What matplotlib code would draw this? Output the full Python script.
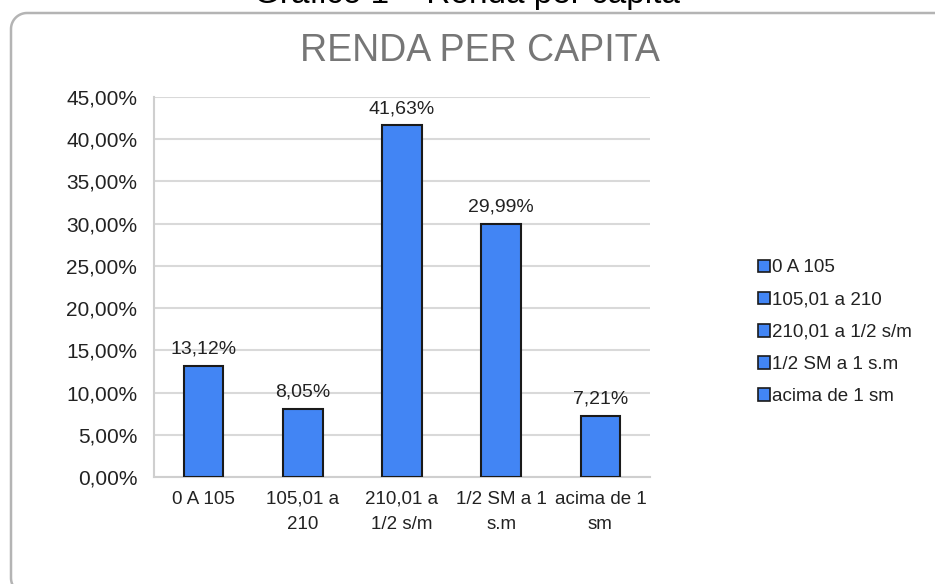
import matplotlib
matplotlib.use('Agg')
import numpy as np
from matplotlib import pyplot as plt
from matplotlib.lines import Line2D
from matplotlib.patches import Patch
from matplotlib.ticker import FuncFormatter

plt.rcParams['font.family'] = ['Liberation Sans', 'DejaVu Sans']

categories = ['0 A 105', '105,01 a\n210', '210,01 a\n1/2 s/m', '1/2 SM a 1\ns.m', 'acima de 1\nsm']
legend_labels = ['0 A 105', '105,01 a 210', '210,01 a 1/2 s/m', '1/2 SM a 1 s.m', 'acima de 1 sm']
values = [0.1312, 0.0805, 0.4163, 0.2999, 0.0721]
value_labels = ['13,12%', '8,05%', '41,63%', '29,99%', '7,21%']

W, H = 935, 584
fig = plt.figure(figsize=(W / 100, H / 100), dpi=100)

# rounded frame around the chart (only top and left edges are visible)
r = 16
left, top, bottom = 11, 13, 594
t = np.linspace(0, np.pi / 2, 20)
arc_x = left + r - r * np.sin(t)        # top-left corner
arc_y = top + r - r * np.cos(t)
arc2_x = left + r - r * np.cos(t)       # bottom-left corner
arc2_y = bottom - r + r * np.sin(t)
px = np.concatenate([[W + 5], arc_x, arc2_x])
py = np.concatenate([[top], arc_y, arc2_y])
fig.add_artist(Line2D(px / W, 1 - py / H, transform=fig.transFigure,
                      color='#b4b4b4', linewidth=1.8, solid_capstyle='butt'))

# caption, cut off at the top in the original
fig.text(467 / W, 1 - 3 / H, 'Gráfico 1 – Renda per capita', ha='center', va='baseline',
         fontsize=24, color='black')

fig.text(480 / W, 1 - 51 / H, 'RENDA PER CAPITA', ha='center', va='center',
         fontsize=27, color='#767676')

ax = fig.add_axes([154 / W, 1 - 477 / H, (650 - 154) / W, (477 - 97) / H])
x = range(len(categories))
bars = ax.bar(x, values, width=0.4, color='#4285f4', edgecolor='#1a1a1a', linewidth=1.5, zorder=3)

ax.set_xlim(-0.5, len(categories) - 0.5)
ax.set_ylim(0, 0.45)
ax.set_yticks([i * 0.05 for i in range(10)])
ax.yaxis.set_major_formatter(FuncFormatter(lambda v, p: f'{v * 100:.2f}%'.replace('.', ',')))
ax.set_xticks(list(x))
ax.set_xticklabels(categories, fontsize=13.5, color='#222222', linespacing=1.6)
ax.tick_params(axis='y', length=0, pad=12, labelsize=15, labelcolor='#222222')
ax.tick_params(axis='x', length=0, pad=10)
ax.grid(axis='y', color='#d9d9d9', linewidth=1.5, zorder=0)
for s in ['top', 'right']:
    ax.spines[s].set_visible(False)
for s in ['left', 'bottom']:
    ax.spines[s].set_color('#cfcfcf')
    ax.spines[s].set_linewidth(1.5)

for b, lab in zip(bars, value_labels):
    ax.annotate(lab, (b.get_x() + b.get_width() / 2, b.get_height()), xytext=(0, 6),
                textcoords='offset points', ha='center', va='bottom', fontsize=14, color='#222222')

handles = [Patch(facecolor='#4285f4', edgecolor='#1a1a1a', linewidth=1.2) for _ in legend_labels]
fig.legend(handles, legend_labels, loc='upper left', bbox_to_anchor=(750 / W, 1 - 252 / H),
           frameon=False, fontsize=13.5, handlelength=0.65, handleheight=0.65,
           handletextpad=0.15, labelspacing=0.81, borderaxespad=0, labelcolor='#222222')

fig.savefig('out.png', dpi=100)
